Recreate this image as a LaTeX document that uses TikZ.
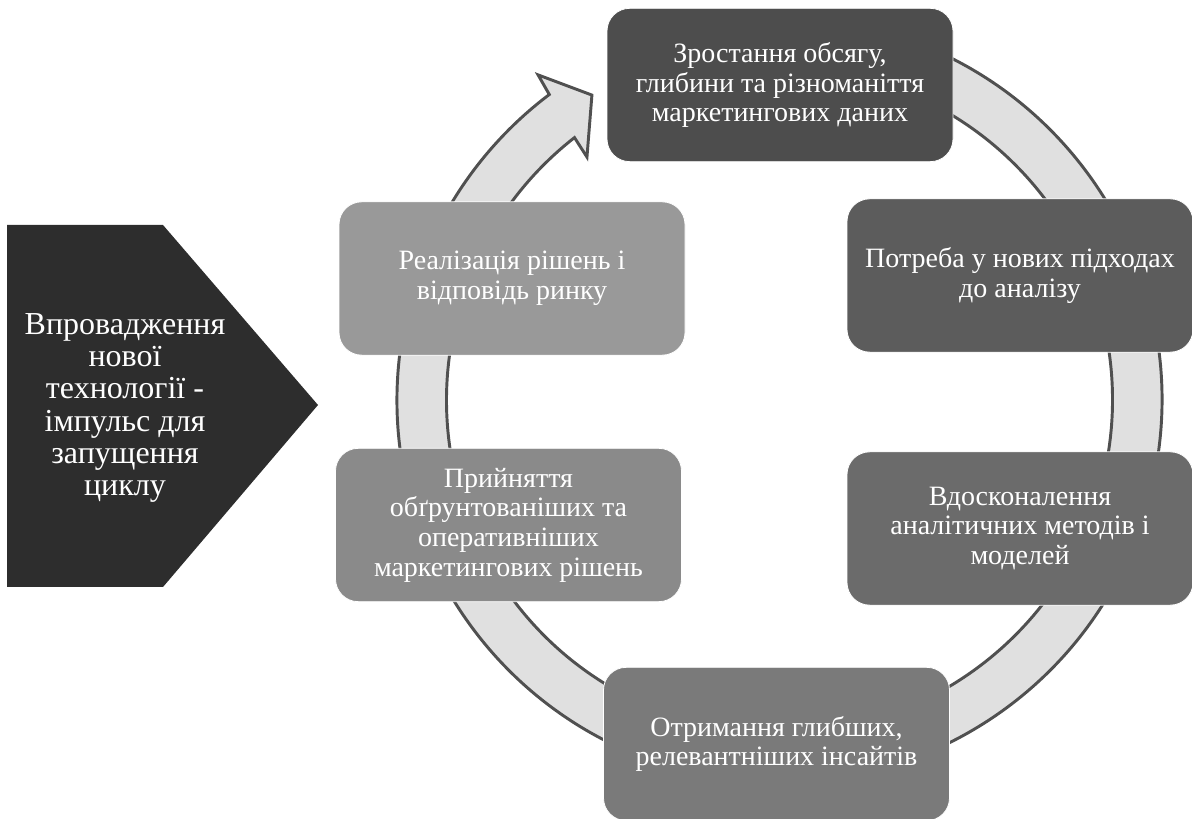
\documentclass[tikz,border=0pt]{standalone}
\usepackage{fontspec}
\setmainfont{Liberation Serif}
\usepackage{xcolor}
\usetikzlibrary{positioning}

\definecolor{stepA}{HTML}{4D4D4D}
\definecolor{stepB}{HTML}{5C5C5C}
\definecolor{stepC}{HTML}{6B6B6B}
\definecolor{stepD}{HTML}{7A7A7A}
\definecolor{stepE}{HTML}{8A8A8A}
\definecolor{stepF}{HTML}{999999}
\definecolor{ringfill}{HTML}{E0E0E0}
\definecolor{ringline}{HTML}{505050}
\definecolor{impulsefill}{HTML}{2D2D2D}

\begin{document}
\begin{tikzpicture}[x=0.75pt,y=0.75pt,
  cyclebox/.style={draw=white,line width=0.6pt,rounded corners=17pt,
    minimum width=259.5pt,minimum height=115pt,inner sep=0pt,
    text=white,align=center,font=\fontsize{21}{22.3}\selectfont},
  ringarrow/.style={fill=ringfill,draw=ringline,line width=2.2pt,line join=miter}]
\useasboundingbox (0,0) rectangle (1192,818);

% cycle arrow
\begin{scope}[shift={(779.5,418)}]
\draw[ringarrow] (80:382.5) arc[start angle=80,end angle=-233,radius=382.5]
  -- (-233.4:405) -- (-238.4:358) -- (-231.6:310) -- (-232:333)
  arc[start angle=-232,end angle=80,radius=333] -- cycle;
\end{scope}

% steps
\node[cyclebox,fill=stepA] (data) at (780,733) {Зростання обсягу,\\глибини та різноманіття\\маркетингових даних};
\node[cyclebox,fill=stepB] (need) at (1020,542.5) {Потреба у нових підходах\\до аналізу};
\node[cyclebox,fill=stepC] (methods) at (1020,289.5) {Вдосконалення\\аналітичних методів і\\моделей};
\node[cyclebox,fill=stepD] (insights) at (776.5,74) {Отримання глибших,\\релевантніших інсайтів};
\node[cyclebox,fill=stepE] (decisions) at (508.5,293) {Прийняття\\обґрунтованіших та\\оперативніших\\маркетингових рішень};
\node[cyclebox,fill=stepF] (market) at (512,539.5) {Реалізація рішень і\\відповідь ринку};

% impulse
\fill[impulsefill] (7,593) -- (163,593) -- (318,413) -- (163,231) -- (7,231) -- cycle;
\node[text=white,align=center,font=\fontsize{24}{24.2}\selectfont] (impulse) at (125,410)
  {Впровадження\\нової\\технології -\\імпульс для\\запущення\\циклу};
\end{tikzpicture}
\end{document}
